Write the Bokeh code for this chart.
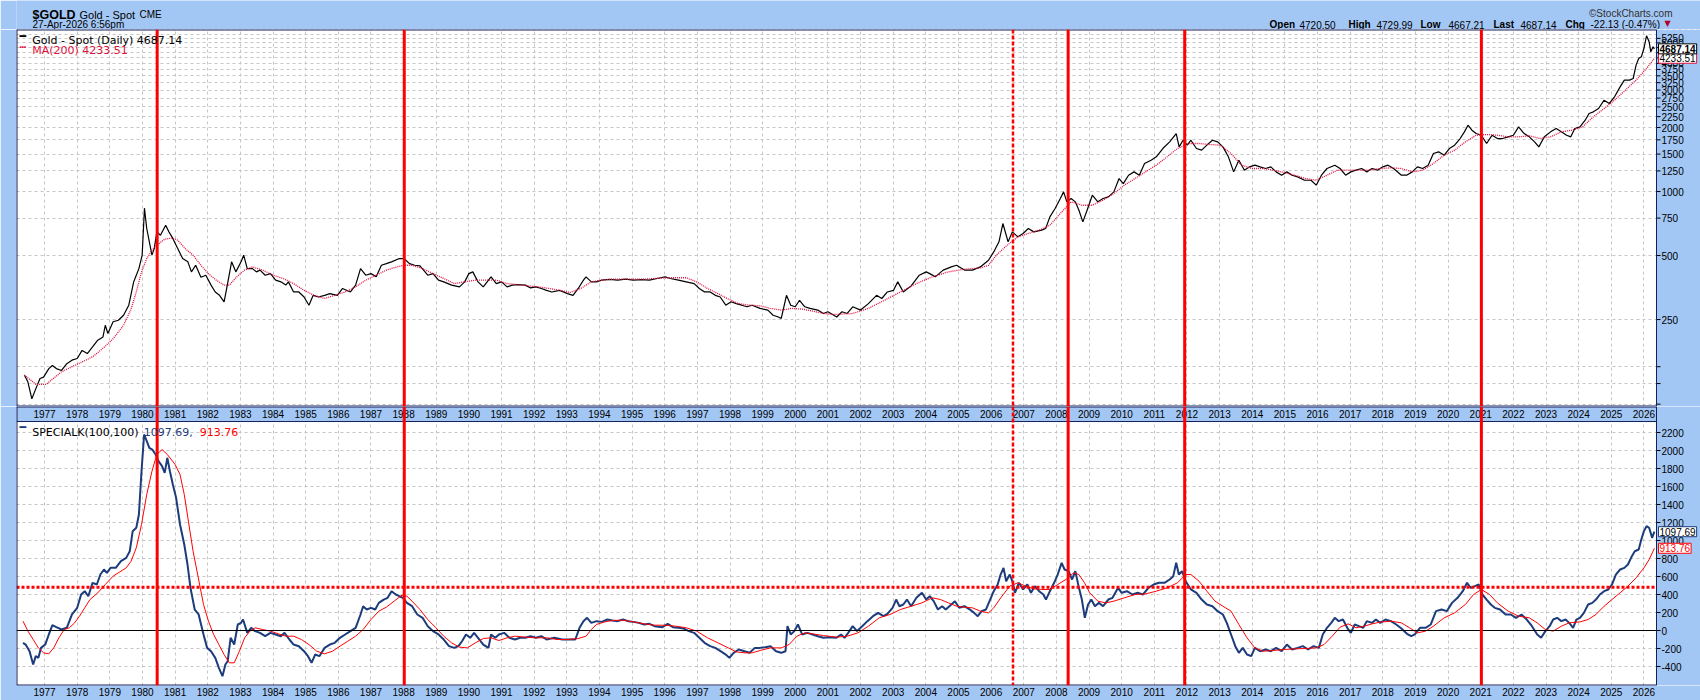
from bokeh.plotting import figure
from bokeh.layouts import column
from bokeh.models import (Range1d, FixedTicker, Span, Label, LabelSet,
                          ColumnDataSource, BoxAnnotation, Grid)
from bokeh.core.properties import value
from bokeh.embed import file_html
from bokeh.resources import INLINE

# ------------------------------------------------------------------ data
GOLD = [
    (1976.38, 137), (1976.49, 127), (1976.61, 106), (1976.73, 118), (1976.86, 132), (1976.97, 134),
    (1977.13, 147), (1977.24, 152), (1977.36, 147), (1977.52, 144), (1977.68, 155), (1977.84, 161),
    (1978.00, 164), (1978.15, 179), (1978.31, 173), (1978.47, 186), (1978.63, 200), (1978.79, 207),
    (1978.86, 235), (1978.94, 215), (1979.10, 244), (1979.26, 248), (1979.42, 262), (1979.58, 292),
    (1979.73, 376), (1979.81, 404), (1979.89, 434), (1979.99, 502), (1980.06, 835), (1980.13, 670),
    (1980.21, 580), (1980.29, 502), (1980.36, 539), (1980.44, 646), (1980.55, 623), (1980.71, 694),
    (1980.81, 646), (1980.92, 605), (1981.08, 539), (1981.23, 484), (1981.39, 467), (1981.50, 419),
    (1981.63, 450), (1981.79, 395), (1981.94, 404), (1982.10, 363), (1982.23, 337), (1982.36, 325),
    (1982.50, 303), (1982.58, 350), (1982.73, 467), (1982.86, 419), (1983.02, 467), (1983.10, 502),
    (1983.21, 434), (1983.37, 434), (1983.49, 419), (1983.60, 427), (1983.76, 404), (1983.92, 411),
    (1984.08, 383), (1984.24, 376), (1984.39, 363), (1984.47, 376), (1984.63, 337), (1984.79, 337),
    (1984.95, 319), (1985.10, 292), (1985.23, 325), (1985.39, 319), (1985.58, 325), (1985.74, 331),
    (1985.97, 325), (1986.13, 350), (1986.37, 337), (1986.53, 363), (1986.68, 434), (1986.84, 404),
    (1987.00, 411), (1987.16, 397), (1987.32, 450), (1987.47, 458), (1987.63, 467), (1987.87, 484),
    (1988.01, 484), (1988.18, 458), (1988.34, 450), (1988.50, 447), (1988.74, 404), (1988.90, 411),
    (1989.07, 383), (1989.23, 376), (1989.47, 363), (1989.71, 356), (1989.87, 376), (1990.00, 411),
    (1990.12, 419), (1990.28, 376), (1990.44, 356), (1990.60, 383), (1990.68, 397), (1990.84, 369),
    (1991.00, 376), (1991.17, 356), (1991.33, 363), (1991.49, 365), (1991.73, 363), (1991.89, 352),
    (1992.05, 356), (1992.22, 350), (1992.38, 343), (1992.54, 337), (1992.78, 343), (1993.02, 331),
    (1993.19, 325), (1993.35, 350), (1993.51, 383), (1993.59, 397), (1993.75, 376), (1993.91, 376),
    (1994.07, 383), (1994.31, 386), (1994.56, 383), (1994.80, 387), (1995.04, 383), (1995.29, 385),
    (1995.53, 383), (1995.77, 390), (1996.01, 397), (1996.17, 390), (1996.42, 383), (1996.66, 376),
    (1996.90, 369), (1997.06, 350), (1997.22, 337), (1997.39, 337), (1997.55, 325), (1997.70, 319),
    (1997.87, 292), (1998.03, 303), (1998.19, 297), (1998.36, 292), (1998.52, 287), (1998.68, 292),
    (1998.92, 282), (1999.16, 277), (1999.32, 262), (1999.48, 257), (1999.57, 253), (1999.73, 325),
    (1999.86, 292), (2000.00, 287), (2000.13, 308), (2000.29, 287), (2000.45, 282), (2000.69, 277),
    (2000.86, 267), (2001.00, 272), (2001.18, 262), (2001.27, 257), (2001.43, 272), (2001.59, 267),
    (2001.76, 287), (2002.00, 277), (2002.24, 297), (2002.49, 325), (2002.65, 314), (2002.82, 337),
    (2003.01, 343), (2003.14, 376), (2003.31, 337), (2003.55, 360), (2003.80, 404), (2004.01, 419),
    (2004.12, 411), (2004.29, 397), (2004.53, 427), (2004.78, 442), (2004.94, 450), (2005.18, 427),
    (2005.43, 427), (2005.67, 442), (2005.92, 475), (2006.08, 520), (2006.24, 580), (2006.36, 707),
    (2006.52, 580), (2006.65, 646), (2006.82, 612), (2006.98, 635), (2007.14, 670), (2007.31, 646),
    (2007.55, 658), (2007.67, 670), (2007.80, 760), (2007.96, 832), (2008.12, 927), (2008.22, 996),
    (2008.32, 894), (2008.45, 927), (2008.58, 894), (2008.69, 817), (2008.81, 720), (2008.94, 817),
    (2009.10, 961), (2009.27, 894), (2009.43, 927), (2009.59, 944), (2009.76, 996), (2009.92, 1151),
    (2010.05, 1090), (2010.21, 1193), (2010.38, 1237), (2010.54, 1193), (2010.70, 1354), (2010.90, 1404),
    (2011.06, 1456), (2011.26, 1593), (2011.47, 1712), (2011.67, 1874), (2011.76, 1622), (2011.88, 1743),
    (2012.01, 1652), (2012.12, 1743), (2012.29, 1593), (2012.45, 1565), (2012.61, 1652), (2012.78, 1743),
    (2012.94, 1712), (2013.10, 1622), (2013.27, 1456), (2013.43, 1237), (2013.59, 1404), (2013.76, 1260),
    (2013.92, 1306), (2014.08, 1330), (2014.24, 1306), (2014.41, 1283), (2014.57, 1306), (2014.73, 1237),
    (2014.90, 1193), (2015.06, 1237), (2015.22, 1193), (2015.39, 1172), (2015.60, 1130), (2015.80, 1130),
    (2015.96, 1071), (2016.12, 1193), (2016.29, 1283), (2016.53, 1330), (2016.69, 1283), (2016.86, 1193),
    (2017.02, 1237), (2017.18, 1260), (2017.35, 1283), (2017.51, 1237), (2017.67, 1283), (2017.84, 1260),
    (2018.00, 1306), (2018.16, 1330), (2018.33, 1283), (2018.57, 1193), (2018.73, 1193), (2018.90, 1237),
    (2019.06, 1306), (2019.22, 1283), (2019.39, 1330), (2019.55, 1509), (2019.71, 1537), (2019.88, 1482),
    (2020.04, 1593), (2020.20, 1652), (2020.37, 1775), (2020.50, 1908), (2020.61, 2051), (2020.73, 1943),
    (2020.86, 1874), (2021.02, 1840), (2021.18, 1682), (2021.35, 1840), (2021.51, 1775), (2021.67, 1775),
    (2021.84, 1808), (2022.00, 1840), (2022.16, 2014), (2022.33, 1874), (2022.49, 1808), (2022.65, 1712),
    (2022.78, 1622), (2022.95, 1808), (2023.14, 1908), (2023.31, 1978), (2023.47, 1908), (2023.63, 1840),
    (2023.76, 1808), (2023.88, 1978), (2024.04, 2014), (2024.20, 2165), (2024.32, 2328), (2024.45, 2370),
    (2024.61, 2457), (2024.78, 2689), (2024.94, 2594), (2025.10, 2788), (2025.27, 3106), (2025.40, 3340),
    (2025.56, 3340), (2025.67, 3400), (2025.76, 3929), (2025.84, 4222), (2025.92, 4300), (2026.00, 4705),
    (2026.08, 5397), (2026.16, 5058), (2026.21, 4537), (2026.28, 4790), (2026.32, 4687.14),
]

MA200 = [
    (1976.38, 137), (1976.73, 124), (1977.05, 124), (1977.52, 142), (1977.84, 150), (1978.15, 158),
    (1978.47, 167), (1978.79, 183), (1979.10, 203), (1979.42, 235), (1979.65, 280), (1979.81, 337),
    (1979.97, 419), (1980.13, 484), (1980.29, 530), (1980.44, 559), (1980.68, 597), (1980.92, 605),
    (1981.08, 590), (1981.31, 539), (1981.55, 502), (1981.79, 450), (1982.02, 411), (1982.26, 383),
    (1982.50, 363), (1982.66, 363), (1982.89, 397), (1983.13, 427), (1983.37, 442), (1983.68, 427),
    (1984.00, 404), (1984.31, 390), (1984.63, 369), (1984.95, 343), (1985.26, 325), (1985.58, 314),
    (1985.89, 325), (1986.21, 337), (1986.53, 356), (1986.84, 383), (1987.16, 404), (1987.47, 427),
    (1987.79, 442), (1988.02, 450), (1988.26, 450), (1988.58, 434), (1988.90, 411), (1989.23, 390),
    (1989.55, 369), (1989.87, 376), (1990.20, 383), (1990.52, 383), (1990.84, 383), (1991.17, 369),
    (1991.49, 365), (1991.81, 360), (1992.14, 356), (1992.46, 350), (1992.78, 343), (1993.10, 335),
    (1993.43, 350), (1993.75, 376), (1994.07, 383), (1994.39, 387), (1994.72, 387), (1995.04, 387),
    (1995.36, 387), (1995.69, 390), (1996.01, 393), (1996.34, 393), (1996.66, 393), (1996.98, 376),
    (1997.31, 350), (1997.63, 331), (1997.95, 312), (1998.27, 297), (1998.60, 292), (1998.92, 290),
    (1999.24, 282), (1999.57, 277), (1999.89, 282), (2000.21, 280), (2000.53, 274), (2000.86, 267),
    (2001.18, 264), (2001.76, 267), (2002.24, 282), (2002.73, 308), (2003.22, 337), (2003.71, 369),
    (2004.20, 397), (2004.69, 419), (2005.18, 431), (2005.67, 437), (2005.92, 450), (2006.16, 502),
    (2006.49, 559), (2006.82, 612), (2007.14, 635), (2007.47, 658), (2007.80, 694), (2008.12, 788),
    (2008.45, 894), (2008.78, 862), (2009.10, 862), (2009.43, 911), (2009.76, 979), (2010.08, 1071),
    (2010.41, 1151), (2010.73, 1237), (2011.06, 1330), (2011.39, 1456), (2011.71, 1593), (2012.04, 1682),
    (2012.37, 1682), (2012.69, 1664), (2013.02, 1652), (2013.35, 1509), (2013.67, 1330), (2014.00, 1283),
    (2014.33, 1283), (2014.65, 1260), (2014.98, 1228), (2015.31, 1193), (2015.63, 1151), (2015.96, 1130),
    (2016.29, 1193), (2016.61, 1260), (2016.94, 1260), (2017.27, 1260), (2017.59, 1260), (2017.92, 1283),
    (2018.24, 1292), (2018.57, 1283), (2018.90, 1237), (2019.22, 1260), (2019.55, 1354), (2019.88, 1482),
    (2020.20, 1565), (2020.53, 1712), (2020.86, 1840), (2021.18, 1854), (2021.51, 1840), (2021.84, 1808),
    (2022.16, 1808), (2022.49, 1827), (2022.82, 1775), (2023.14, 1808), (2023.47, 1908), (2023.80, 1943),
    (2024.12, 2014), (2024.45, 2245), (2024.78, 2457), (2025.10, 2689), (2025.43, 2996), (2025.76, 3340),
    (2026.08, 3789), (2026.32, 4233.51),
]

SPECIALK = [
    (1976.34, -137), (1976.42, -156), (1976.54, -230), (1976.65, -378), (1976.73, -285), (1976.81, -304),
    (1976.89, -193), (1977.02, -156), (1977.13, -44), (1977.24, 59), (1977.36, 37), (1977.52, 11),
    (1977.68, 30), (1977.84, 178), (1978.00, 252), (1978.12, 400), (1978.23, 437), (1978.34, 381),
    (1978.47, 530), (1978.60, 511), (1978.71, 622), (1978.82, 678), (1978.91, 641), (1979.02, 696),
    (1979.18, 696), (1979.34, 770), (1979.50, 807), (1979.61, 881), (1979.70, 1104), (1979.81, 1141),
    (1979.89, 1289), (1979.97, 1770), (1980.05, 2178), (1980.13, 2104), (1980.21, 2030), (1980.30, 2011),
    (1980.40, 1956), (1980.49, 1882), (1980.60, 1826), (1980.68, 1752), (1980.76, 1919), (1980.84, 1770),
    (1980.93, 1622), (1981.03, 1474), (1981.15, 1178), (1981.28, 956), (1981.38, 733), (1981.47, 474),
    (1981.60, 233), (1981.72, 178), (1981.87, -44), (1981.98, -193), (1982.10, -230), (1982.23, -304),
    (1982.34, -415), (1982.45, -507), (1982.54, -378), (1982.61, -341), (1982.70, -81), (1982.81, -156),
    (1982.92, 67), (1983.02, 85), (1983.08, 122), (1983.21, -26), (1983.33, 30), (1983.45, -7),
    (1983.60, -26), (1983.76, -63), (1983.92, -26), (1984.08, -44), (1984.24, -63), (1984.35, -26),
    (1984.50, -100), (1984.63, -156), (1984.79, -174), (1984.95, -230), (1985.07, -285), (1985.18, -359),
    (1985.29, -267), (1985.42, -285), (1985.58, -193), (1985.74, -156), (1985.89, -137), (1986.05, -81),
    (1986.21, -44), (1986.37, -7), (1986.53, 30), (1986.68, 178), (1986.76, 270), (1986.87, 233),
    (1987.00, 252), (1987.13, 233), (1987.24, 307), (1987.39, 344), (1987.51, 363), (1987.63, 437),
    (1987.76, 400), (1987.87, 381), (1987.98, 363), (1988.10, 307), (1988.26, 270), (1988.42, 178),
    (1988.58, 141), (1988.74, 48), (1988.90, -7), (1989.07, -44), (1989.23, -100), (1989.39, -174),
    (1989.55, -193), (1989.68, -174), (1989.79, -119), (1989.91, -44), (1990.04, -81), (1990.16, -26),
    (1990.28, -81), (1990.44, -156), (1990.60, -193), (1990.68, -44), (1990.81, -81), (1990.92, -44),
    (1991.08, -26), (1991.24, -81), (1991.41, -100), (1991.57, -81), (1991.73, -81), (1991.89, -63),
    (1992.05, -81), (1992.22, -63), (1992.38, -100), (1992.62, -81), (1992.86, -100), (1993.10, -100),
    (1993.26, -100), (1993.39, 30), (1993.51, 104), (1993.62, 141), (1993.75, 85), (1993.91, 104),
    (1994.07, 96), (1994.24, 122), (1994.40, 111), (1994.56, 104), (1994.72, 122), (1994.88, 104),
    (1995.04, 96), (1995.21, 85), (1995.37, 67), (1995.53, 74), (1995.69, 48), (1995.93, 37),
    (1996.09, 74), (1996.25, 37), (1996.42, 30), (1996.58, 22), (1996.74, -7), (1996.90, -26),
    (1997.06, -81), (1997.22, -137), (1997.39, -174), (1997.55, -193), (1997.71, -230), (1997.87, -267),
    (1997.98, -304), (1998.11, -248), (1998.27, -211), (1998.44, -230), (1998.60, -248), (1998.76, -193),
    (1998.92, -193), (1999.08, -185), (1999.24, -174), (1999.41, -230), (1999.57, -248), (1999.70, -230),
    (1999.76, 48), (1999.86, -44), (1999.97, -7), (2000.08, 67), (2000.21, -44), (2000.37, -26),
    (2000.53, -44), (2000.69, -63), (2000.86, -81), (2001.02, -74), (2001.26, -81), (2001.40, -44),
    (2001.51, -81), (2001.62, -26), (2001.76, 48), (2001.89, -7), (2002.05, 48), (2002.21, 104),
    (2002.38, 159), (2002.54, 196), (2002.70, 159), (2002.82, 185), (2002.98, 252), (2003.09, 344),
    (2003.19, 270), (2003.31, 289), (2003.42, 344), (2003.55, 270), (2003.71, 363), (2003.88, 419),
    (2004.01, 344), (2004.12, 381), (2004.24, 326), (2004.37, 233), (2004.50, 270), (2004.61, 233),
    (2004.78, 289), (2004.89, 326), (2005.02, 252), (2005.18, 270), (2005.35, 233), (2005.48, 196),
    (2005.59, 159), (2005.71, 215), (2005.84, 233), (2005.97, 344), (2006.08, 437), (2006.20, 511),
    (2006.29, 622), (2006.38, 696), (2006.46, 548), (2006.57, 622), (2006.65, 548), (2006.73, 419),
    (2006.85, 530), (2006.98, 456), (2007.11, 511), (2007.22, 419), (2007.34, 493), (2007.47, 437),
    (2007.60, 400), (2007.68, 344), (2007.80, 437), (2007.93, 530), (2008.04, 622), (2008.16, 752),
    (2008.25, 678), (2008.37, 659), (2008.48, 567), (2008.58, 659), (2008.69, 474), (2008.78, 344),
    (2008.87, 141), (2008.97, 289), (2009.07, 344), (2009.18, 270), (2009.30, 307), (2009.43, 270),
    (2009.59, 344), (2009.72, 363), (2009.89, 474), (2010.00, 419), (2010.16, 437), (2010.33, 400),
    (2010.49, 419), (2010.65, 400), (2010.82, 474), (2010.98, 511), (2011.14, 530), (2011.31, 530),
    (2011.47, 567), (2011.58, 604), (2011.67, 752), (2011.75, 622), (2011.85, 659), (2011.96, 548),
    (2012.12, 456), (2012.29, 419), (2012.45, 344), (2012.61, 289), (2012.78, 270), (2012.94, 215),
    (2013.10, 178), (2013.22, 85), (2013.35, -44), (2013.48, -174), (2013.59, -248), (2013.71, -193),
    (2013.84, -267), (2013.97, -285), (2014.08, -193), (2014.24, -230), (2014.41, -211), (2014.57, -230),
    (2014.73, -193), (2014.90, -230), (2015.06, -156), (2015.22, -211), (2015.39, -193), (2015.55, -174),
    (2015.71, -211), (2015.88, -174), (2016.04, -193), (2016.16, -44), (2016.29, 30), (2016.42, 85),
    (2016.53, 141), (2016.65, 104), (2016.78, 122), (2016.91, 30), (2017.02, -26), (2017.14, 67),
    (2017.27, 48), (2017.40, 30), (2017.51, 104), (2017.67, 85), (2017.79, 122), (2017.92, 85),
    (2018.08, 122), (2018.25, 104), (2018.41, 67), (2018.57, 22), (2018.74, -37), (2018.87, -63),
    (2018.98, -44), (2019.14, 30), (2019.31, 30), (2019.47, 67), (2019.63, 215), (2019.80, 233),
    (2019.96, 215), (2020.12, 307), (2020.29, 363), (2020.45, 437), (2020.58, 530), (2020.69, 474),
    (2020.82, 493), (2020.94, 511), (2021.05, 400), (2021.18, 344), (2021.31, 289), (2021.43, 252),
    (2021.59, 233), (2021.76, 178), (2021.92, 178), (2022.08, 141), (2022.25, 178), (2022.41, 122),
    (2022.57, 48), (2022.73, -44), (2022.85, -81), (2022.98, -7), (2023.11, 48), (2023.22, 122),
    (2023.34, 141), (2023.47, 104), (2023.60, 122), (2023.71, 85), (2023.83, 30), (2023.93, 122),
    (2024.04, 141), (2024.16, 196), (2024.29, 289), (2024.42, 307), (2024.53, 344), (2024.65, 400),
    (2024.78, 437), (2024.91, 456), (2025.02, 511), (2025.14, 622), (2025.27, 678), (2025.40, 696),
    (2025.51, 733), (2025.63, 826), (2025.72, 881), (2025.84, 900), (2025.92, 1011), (2026.00, 1104),
    (2026.08, 1159), (2026.16, 1141), (2026.25, 1030), (2026.32, 1097.69),
]

SIGNAL = [
    (1976.34, 104), (1976.49, -7), (1976.65, -100), (1976.81, -193), (1976.97, -248), (1977.13, -259),
    (1977.28, -193), (1977.44, -81), (1977.60, 11), (1977.76, 30), (1977.92, 85), (1978.07, 159),
    (1978.23, 252), (1978.39, 344), (1978.63, 419), (1978.86, 511), (1979.10, 604), (1979.34, 659),
    (1979.50, 696), (1979.65, 770), (1979.81, 919), (1979.97, 1178), (1980.13, 1511), (1980.29, 1770),
    (1980.44, 1956), (1980.60, 2011), (1980.76, 1956), (1981.00, 1845), (1981.15, 1733), (1981.28, 1511),
    (1981.39, 1252), (1981.55, 881), (1981.71, 585), (1981.87, 289), (1982.02, 104), (1982.18, -44),
    (1982.34, -156), (1982.50, -267), (1982.66, -359), (1982.81, -359), (1982.97, -230), (1983.13, -81),
    (1983.29, -7), (1983.45, 30), (1983.68, 11), (1983.92, -7), (1984.16, -37), (1984.39, -63),
    (1984.63, -63), (1984.87, -100), (1985.10, -156), (1985.34, -230), (1985.58, -259), (1985.82, -230),
    (1986.05, -174), (1986.29, -119), (1986.53, -63), (1986.76, 11), (1987.00, 122), (1987.24, 215),
    (1987.47, 259), (1987.71, 326), (1987.95, 393), (1988.10, 381), (1988.26, 326), (1988.50, 233),
    (1988.74, 122), (1988.99, 30), (1989.23, -63), (1989.47, -137), (1989.71, -185), (1989.95, -193),
    (1990.20, -137), (1990.44, -89), (1990.68, -81), (1990.92, -111), (1991.17, -81), (1991.41, -63),
    (1991.73, -74), (1992.05, -81), (1992.38, -81), (1992.70, -100), (1993.02, -100), (1993.35, -89),
    (1993.59, -63), (1993.75, 11), (1993.91, 67), (1994.16, 96), (1994.40, 111), (1994.72, 115),
    (1995.04, 96), (1995.37, 74), (1995.69, 59), (1996.01, 59), (1996.34, 48), (1996.66, 30),
    (1996.98, -7), (1997.31, -81), (1997.63, -137), (1997.95, -193), (1998.19, -237), (1998.44, -248),
    (1998.68, -248), (1998.92, -222), (1999.24, -193), (1999.57, -193), (1999.81, -156), (2000.05, -63),
    (2000.29, -26), (2000.53, -37), (2000.86, -56), (2001.26, -74), (2001.59, -63), (2001.92, -26),
    (2002.24, 48), (2002.57, 141), (2002.90, 178), (2003.22, 233), (2003.55, 270), (2003.88, 307),
    (2004.20, 363), (2004.45, 344), (2004.69, 307), (2004.94, 270), (2005.18, 259), (2005.43, 252),
    (2005.67, 215), (2005.92, 196), (2006.08, 252), (2006.33, 381), (2006.57, 493), (2006.82, 530),
    (2007.06, 493), (2007.31, 463), (2007.55, 456), (2007.80, 456), (2008.04, 511), (2008.29, 567),
    (2008.53, 641), (2008.69, 622), (2008.86, 530), (2009.02, 419), (2009.27, 326), (2009.51, 307),
    (2009.76, 326), (2010.08, 363), (2010.41, 400), (2010.73, 407), (2011.06, 437), (2011.39, 474),
    (2011.71, 530), (2011.96, 622), (2012.12, 622), (2012.37, 548), (2012.61, 437), (2012.86, 326),
    (2013.10, 270), (2013.35, 215), (2013.59, 67), (2013.84, -81), (2014.08, -193), (2014.33, -230),
    (2014.65, -222), (2014.98, -211), (2015.31, -204), (2015.63, -200), (2015.96, -193), (2016.20, -156),
    (2016.45, -63), (2016.69, 37), (2016.94, 74), (2017.18, 30), (2017.43, 48), (2017.67, 74),
    (2017.92, 93), (2018.25, 104), (2018.57, 85), (2018.82, 30), (2019.06, -26), (2019.31, -7),
    (2019.55, 48), (2019.88, 141), (2020.20, 196), (2020.53, 289), (2020.78, 400), (2021.02, 456),
    (2021.27, 400), (2021.51, 307), (2021.84, 215), (2022.16, 159), (2022.49, 141), (2022.73, 85),
    (2022.98, 11), (2023.22, -7), (2023.47, 48), (2023.71, 85), (2024.04, 96), (2024.29, 122),
    (2024.53, 178), (2024.78, 270), (2025.02, 344), (2025.27, 419), (2025.51, 493), (2025.76, 585),
    (2026.00, 696), (2026.16, 789), (2026.32, 913.76),
]

EVENT_SOLID = [1980.45, 1988.02, 2008.36, 2011.93, 2021.02]
EVENT_DASHED = [2006.67]
SK_THRESHOLD = 480
YEARS = list(range(1977, 2027))
PRICE_TICKS = [100, 125, 150] + list(range(250, 5251, 250))
SK_TICKS = list(range(-400, 2201, 200))
QUOTE = {"Open": "4720.50", "High": "4729.99", "Low": "4667.21", "Last": "4687.14"}
CHANGE = "-22.13 (-0.47%)"
LAST_PRICE, LAST_MA = 4687.14, 4233.51
LAST_SK, LAST_SIG = 1097.69, 913.76

GOLD_T, GOLD_P = zip(*GOLD)
MA_T, MA_P = zip(*MA200)
SK_T, SK_V = zip(*SPECIALK)
SIG_T, SIG_V = zip(*SIGNAL)

# ------------------------------------------------------------------ style / layout
BG = "#A3C7F5"
NAVY = "#14205A"
GRID_C = "#C6C6C6"
SKBLUE = "#1C3C7C"
MA_RED = "#E0103C"
AX_FONT = "Liberation Sans"
LG_FONT = "DejaVu Sans"

PX = 1 / 32.64                # one screen pixel in years
X0 = 1976.14                  # left edge of the plot box
X1 = X0 + 1640 * PX           # right edge of the plot box (price axis starts here)
XE = X0 + 1684 * PX           # right edge of the page
P_LO, P_HI = 97.5, 5780
SK_BOTTOM, SK_TOP, BAND_TOP = -611, 2322, 2489
HEAD, H1, H2 = 29, 377, 279


def add_text(p, x, y, text, size="10px", bold=False, color="black", font=AX_FONT,
             align="left", baseline="alphabetic", x_units="screen", y_units="screen", **kw):
    p.add_layout(Label(x=x, y=y, x_units=x_units, y_units=y_units, text=text,
                       text_font=font, text_font_size=size,
                       text_font_style="bold" if bold else "normal",
                       text_color=color, text_align=align, text_baseline=baseline, **kw))


def hide_grids(p):
    for g in p.grid:
        g.visible = False


def right_axis(p, ticks, labels):
    """price/indicator scale on the right, drawn in the blue margin"""
    p.add_layout(BoxAnnotation(left=X1, fill_color=BG, fill_alpha=1.0, line_alpha=0,
                               level="underlay"))
    p.segment(x0=[X1] * len(ticks), x1=[X1 + 4 * PX] * len(ticks), y0=ticks, y1=ticks,
              line_color="black", line_width=1)
    src = ColumnDataSource(dict(x=[X1 + 5 * PX] * len(ticks), y=ticks, t=labels))
    p.add_layout(LabelSet(x="x", y="y", text="t", source=src, text_baseline="middle",
                          text_align="left", text_font=value(AX_FONT),
                          text_font_size=value("10px"), text_color="black"))


def tag(p, v, text, color, border, bold=False):
    add_text(p, X1 + 2 * PX, v, text, size="10px", bold=bold, color=color, baseline="middle",
             x_units="data", y_units="data", background_fill_color="white",
             border_line_color=border, padding=1)


def events(p):
    for t in EVENT_SOLID:
        p.add_layout(Span(location=t, dimension="height", line_color="#FF0000", line_width=3))
    for t in EVENT_DASHED:
        p.add_layout(Span(location=t, dimension="height", line_color="#FF0000",
                          line_width=2.5, line_dash="4 2"))


# ------------------------------------------------------------------ header strip
ph = figure(width=1700, height=HEAD, x_range=Range1d(0, 1700), y_range=Range1d(0, HEAD),
            x_axis_location=None, y_axis_location=None, toolbar_location=None,
            output_backend="svg", min_border=0, min_border_left=0, min_border_right=0,
            min_border_top=0, min_border_bottom=0,
            background_fill_color=BG, border_fill_color=BG, outline_line_color=None)
hide_grids(ph)


def hb(b):
    return HEAD - b


add_text(ph, 16, hb(14), "$GOLD", size="12.5px", bold=True)
add_text(ph, 63, hb(14), "Gold - Spot", size="11px")
add_text(ph, 123, hb(14), "CME", size="10px")
add_text(ph, 16, hb(24), "27-Apr-2026 6:56pm", size="10px")
add_text(ph, 1656, hb(12.5), "\u00a9StockCharts.com", size="10px", color="#303030",
         align="right")
for (x, k), xv in zip([(1253, "Open"), (1332, "High"), (1404, "Low"), (1477, "Last")],
                      [1283, 1360, 1432, 1504]):
    add_text(ph, x, hb(24), k, size="10px", bold=True)
    add_text(ph, xv, hb(24), QUOTE[k], size="10px")
add_text(ph, 1549, hb(24), "Chg", size="10px", bold=True)
add_text(ph, 1574, hb(24), CHANGE, size="10px")
add_text(ph, 1648, hb(23), "\u25bc", size="8px", color="#B0002A", font=LG_FONT)

# ------------------------------------------------------------------ price panel
p1 = figure(width=1700, height=H1, x_range=Range1d(X0, XE), y_range=Range1d(P_LO, P_HI),
            y_axis_type="log", x_axis_location=None, y_axis_location=None,
            toolbar_location=None, output_backend="svg",
            min_border_left=16, min_border_right=0, min_border_top=0, min_border_bottom=0,
            border_fill_color=BG, background_fill_color="white", outline_line_color=None)
hide_grids(p1)
p1.add_layout(Grid(dimension=0, ticker=FixedTicker(ticks=YEARS),
                   grid_line_color=GRID_C, grid_line_dash="3 3"))
p1.add_layout(Grid(dimension=1, ticker=FixedTicker(ticks=PRICE_TICKS + [5500, 5750]),
                   grid_line_color=GRID_C, grid_line_dash="3 3"))
right_axis(p1, PRICE_TICKS, ["" if t < 250 else str(t) for t in PRICE_TICKS])

p1.line(GOLD_T, GOLD_P, line_color="black", line_width=1.2)
p1.line(MA_T, MA_P, line_color=MA_RED, line_width=1.3, line_dash="1 1")

# plot box border
p1.segment(x0=[X0, X0], x1=[X1, X1], y0=[P_HI, P_LO], y1=[P_HI, P_LO],
           line_color=NAVY, line_width=2)
p1.add_layout(Span(location=X0, dimension="height", line_color=NAVY, line_width=2))
p1.add_layout(Span(location=X1, dimension="height", line_color=NAVY, line_width=1))
events(p1)


def hy(b):
    # frame-relative y of a page baseline (frame top is at page y = HEAD)
    return H1 - (b - HEAD)


add_text(p1, 3, hy(36), "\u2501", size="11px", font=LG_FONT, baseline="middle")
add_text(p1, 15.7, hy(39.5), "Gold - Spot (Daily) 4687.14", size="11px", font=LG_FONT)
add_text(p1, 3, hy(46.5), "\u2505", size="11px", font=LG_FONT, baseline="middle", color=MA_RED)
add_text(p1, 15.7, hy(50.0), "MA(200) 4233.51", size="11px", font=LG_FONT, color=MA_RED)

tag(p1, LAST_MA, f"{LAST_MA:.2f}", "black", MA_RED)
tag(p1, LAST_PRICE, f"{LAST_PRICE:.2f}", "black", "black", bold=True)

# ------------------------------------------------------------------ indicator panel
p2 = figure(width=1700, height=H2 + 15, x_range=p1.x_range,
            y_range=Range1d(SK_BOTTOM, BAND_TOP), y_axis_location=None,
            toolbar_location=None, output_backend="svg",
            min_border_left=16, min_border_right=0, min_border_top=0, min_border_bottom=15,
            border_fill_color=BG, background_fill_color="white", outline_line_color=None)
hide_grids(p2)
p2.xaxis.ticker = FixedTicker(ticks=YEARS)
ax = p2.xaxis[0]
ax.axis_line_color = None
ax.major_tick_line_color = None
ax.minor_tick_line_color = None
ax.major_tick_out = 0
ax.major_tick_in = 0
ax.major_label_standoff = 2
ax.major_label_text_font = AX_FONT
ax.major_label_text_font_size = "10px"
ax.major_label_text_color = "black"
p2.add_layout(Grid(dimension=0, ticker=FixedTicker(ticks=YEARS),
                   grid_line_color=GRID_C, grid_line_dash="3 3"))
p2.add_layout(Grid(dimension=1, ticker=FixedTicker(ticks=SK_TICKS),
                   grid_line_color=GRID_C, grid_line_dash="3 3"))

# date band of the upper panel (top 15px of this frame)
p2.add_layout(BoxAnnotation(bottom=SK_TOP, fill_color=BG, fill_alpha=1.0, line_alpha=0,
                            level="underlay"))
right_axis(p2, SK_TICKS, [str(t) for t in SK_TICKS])

p2.line(SK_T, SK_V, line_color=SKBLUE, line_width=2)
p2.line(SIG_T, SIG_V, line_color="#FF0000", line_width=1)

p2.segment(x0=[X0], x1=[X1], y0=[0], y1=[0], line_color="black", line_width=1)
p2.segment(x0=[X0], x1=[X1], y0=[SK_THRESHOLD], y1=[SK_THRESHOLD], line_color="#FF0000",
           line_width=3, line_dash="3 2")
# box borders: top of band (bottom of price panel), top and bottom of indicator box
p2.segment(x0=[X0, X0, X0], x1=[X1, X1, X1], y0=[BAND_TOP, SK_TOP, SK_BOTTOM],
           y1=[BAND_TOP, SK_TOP, SK_BOTTOM], line_color=NAVY, line_width=[2, 1, 2])
p2.add_layout(Span(location=X0, dimension="height", line_color=NAVY, line_width=2))
p2.add_layout(Span(location=X1, dimension="height", line_color=NAVY, line_width=1))

band_src = ColumnDataSource(dict(x=YEARS, y=[2405] * len(YEARS), t=[str(y) for y in YEARS]))
p2.add_layout(LabelSet(x="x", y="y", text="t", source=band_src, text_align="center",
                       text_baseline="middle", text_font=value(AX_FONT),
                       text_font_size=value("10px"), text_color="black"))
events(p2)


def hy2(off):
    # frame-relative y of a baseline 'off' px below the indicator box top
    return H2 - 15 - off


add_text(p2, 3, hy2(6.3), "\u2501", size="11px", font=LG_FONT, baseline="middle", color=SKBLUE)
add_text(p2, 15.7, hy2(10.5), "SPECIALK(100,100)", size="11px", font=LG_FONT)
add_text(p2, 127.3, hy2(10.5), "1097.69,", size="11px", font=LG_FONT, color=SKBLUE)
add_text(p2, 183.3, hy2(10.5), "913.76", size="11px", font=LG_FONT, color="#FF0000")

tag(p2, LAST_SK, f"{LAST_SK:.2f}", "black", SKBLUE)
tag(p2, LAST_SIG, f"{LAST_SIG:.2f}", "#FF0000", "#FF0000")

layout = column(ph, p1, p2, spacing=0)
open("out.html", "w").write(file_html(layout, INLINE))
